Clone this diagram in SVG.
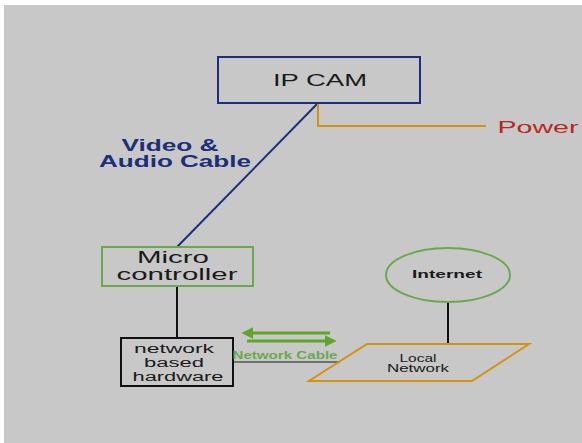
<svg xmlns="http://www.w3.org/2000/svg" width="582" height="443" viewBox="0 0 582 443">
<style>
text{font-family:"Liberation Sans",Arial,sans-serif;text-anchor:middle;}
.lbl{font-size:16px;fill:#1a1a1a;}
.sm{font-size:12px;fill:#1a1a1a;}
.tiny{font-size:10px;fill:#1a1a1a;}
</style>
<defs>
<marker id="ah" viewBox="0 0 10 10" refX="2" refY="5" markerWidth="4" markerHeight="4" orient="auto-start-reverse">
<path d="M0,0 L10,5 L0,10 z" fill="#5ea52a"/>
</marker>
</defs>
<rect x="0" y="0" width="582" height="443" fill="#ffffff"/>
<rect x="4" y="5" width="578" height="438" fill="#c8c8c8"/>
<g id="connectors" fill="none">
<line x1="318" y1="103" x2="177" y2="247" stroke="#1b2f7a" stroke-width="2"/>
<polyline points="318,103 318,126 486,126" stroke="#d4920e" stroke-width="2"/>
<line x1="177" y1="286" x2="177" y2="338" stroke="#111" stroke-width="2"/>
<line x1="233" y1="362" x2="340" y2="362" stroke="#555" stroke-width="1.5"/>
<line x1="448" y1="302" x2="448" y2="344" stroke="#111" stroke-width="2"/>
<line x1="251" y1="333" x2="330" y2="333" stroke="#5ea52a" stroke-width="3" marker-start="url(#ah)"/>
<line x1="247" y1="341" x2="327" y2="341" stroke="#5ea52a" stroke-width="3" marker-end="url(#ah)"/>
</g>
<g id="ipcam">
<rect x="218" y="57" width="202" height="46" fill="none" stroke="#1b2f7a" stroke-width="2"/>
<text x="320" y="86" class="lbl" font-size="17" textLength="94" lengthAdjust="spacingAndGlyphs">IP CAM</text>
</g>
<g id="power">
<text x="538" y="133" font-size="16" fill="#b52a1c" textLength="81" lengthAdjust="spacingAndGlyphs">Power</text>
</g>
<g id="cable-label">
<text x="170" y="151" font-size="16" font-weight="bold" fill="#1b2f7a" textLength="97" lengthAdjust="spacingAndGlyphs">Video &amp;</text>
<text x="175" y="167" font-size="16" font-weight="bold" fill="#1b2f7a" textLength="152" lengthAdjust="spacingAndGlyphs">Audio Cable</text>
</g>
<g id="microcontroller">
<rect x="102" y="247" width="151" height="39" fill="none" stroke="#6aa84f" stroke-width="2"/>
<text x="173" y="263" class="lbl" textLength="72" lengthAdjust="spacingAndGlyphs">Micro</text>
<text x="177" y="280" class="lbl" textLength="121" lengthAdjust="spacingAndGlyphs">controller</text>
</g>
<g id="hardware">
<rect x="121" y="338" width="112" height="48" fill="none" stroke="#111" stroke-width="2"/>
<text x="174" y="353" class="sm" textLength="80" lengthAdjust="spacingAndGlyphs">network</text>
<text x="174" y="367" class="sm" textLength="60" lengthAdjust="spacingAndGlyphs">based</text>
<text x="178" y="381" class="sm" textLength="91" lengthAdjust="spacingAndGlyphs">hardware</text>
</g>
<g id="network-cable-label">
<text x="285" y="359" font-size="10" font-weight="bold" fill="#6aa84f" textLength="105" lengthAdjust="spacingAndGlyphs">Network Cable</text>
</g>
<g id="internet">
<ellipse cx="448" cy="275" rx="62" ry="27" fill="none" stroke="#6aa84f" stroke-width="2"/>
<text x="447" y="278" font-size="11" font-weight="bold" fill="#1a1a1a" textLength="70" lengthAdjust="spacingAndGlyphs">Internet</text>
</g>
<g id="local-network">
<polygon points="367,344 529,344 472,381 309,381" fill="none" stroke="#d4920e" stroke-width="2"/>
<text x="418" y="362" class="tiny" textLength="37" lengthAdjust="spacingAndGlyphs">Local</text>
<text x="418" y="372" class="tiny" textLength="62" lengthAdjust="spacingAndGlyphs">Network</text>
</g>
</svg>
